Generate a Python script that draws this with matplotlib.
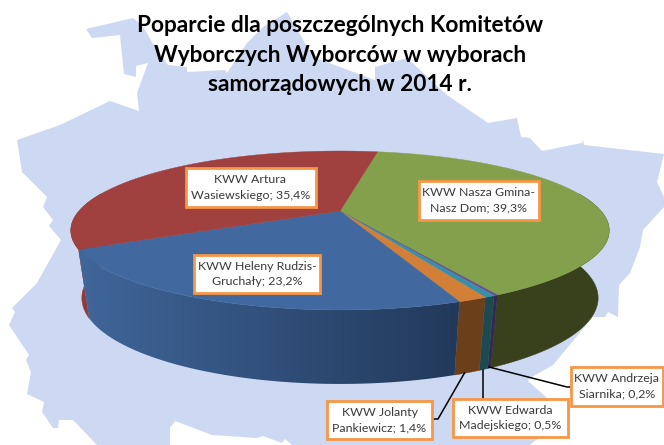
import matplotlib
matplotlib.use('Agg')
import matplotlib.pyplot as plt
import numpy as np
from matplotlib.colors import LinearSegmentedColormap
from matplotlib.patches import Polygon, Rectangle

plt.rcParams['font.family'] = ['Lato', 'DejaVu Sans']

# Dane
names = ['KWW Nasza Gmina-\nNasz Dom', 'KWW Andrzeja\nSiarnika', 'KWW Edwarda\nMadejskiego',
         'KWW Jolanty\nPankiewicz', 'KWW Heleny Rudzis-\nGruchały', 'KWW Artura\nWasiewskiego']
values = [39.3, 0.2, 0.5, 1.4, 23.2, 35.4]
title = 'Poparcie dla poszczególnych Komitetów\nWyborczych Wyborców w wyborach\nsamorządowych w 2014 r.'

# Kolory wycinkow: gora, bok (prawa i lewa strona)
top_colors = ['#83a04c', '#6a4f8f', '#3a8fa8', '#d27f38', '#41699f', '#a0413f']
side_right = ['#38411c', '#352a4d', '#1d4a52', '#6b3f1a', '#22395a', '#8f3b39']
side_left = ['#38411c', '#352a4d', '#1d4a52', '#6b3f1a', '#40669a', '#8f3b39']

# Etykiety: x0, x1, y0, y1 ramki
boxes = [(418.5, 539, 181, 220), (570.5, 663, 367, 406), (453, 567.5, 399, 437),
         (327, 432, 401, 439), (194, 320, 255, 293), (185.5, 315.5, 168, 207)]
leaders = {1: [(489, 367), (567, 387), (571, 387)],
           2: [(483, 370), (483, 399)],
           3: [(464.5, 373), (438, 419), (432, 419)]}

# Mapa w tle
map_outline = [(86, 29), (133, 18), (142, 25), (152, 42), (168, 65), (187, 67), (187, 72), (225, 70),
               (227, 73), (247, 43), (263, 27), (287, 12), (313, 57), (375, 80), (375, 67), (407, 58),
               (447, 95), (488, 123), (517, 118), (521, 137), (530, 138), (542, 151), (582, 143),
               (583, 140), (584, 145), (664, 154), (657, 182), (664, 197), (664, 207), (643, 230),
               (640, 247), (630, 273), (619, 285), (618, 317), (608, 312), (605, 317), (593, 317),
               (553, 365), (530, 378), (528, 381), (547, 398), (560, 420), (530, 445), (292, 445),
               (285, 439), (282, 443), (263, 436), (257, 438), (212, 435), (175, 421), (170, 428),
               (170, 445), (97, 445), (73, 420), (59, 420), (58, 428), (53, 428), (42, 412), (44, 402),
               (27, 394), (31, 372), (26, 360), (29, 355), (9, 325), (15, 312), (12, 308), (37, 283),
               (61, 240), (49, 226), (53, 220), (43, 207), (47, 197), (22, 172), (17, 140), (60, 125),
               (110, 101), (139, 111), (137, 93), (148, 63), (136, 66), (136, 77), (124, 74), (120, 35),
               (92, 38)]

# Geometria tortu w perspektywie
cx = 340
top_y, bottom_y = 211, 276.9
bottom_sx, bottom_sy = 0.959, 1.082
rx, ry, k = 261, 74.7, -0.245
start_angle = 10.3
side_from, side_to = 75.8, 284.2  # widoczna czesc boku


def project(theta, y0, sx=1.0, sy=1.0):
    t = np.radians(theta)
    w = 1 + k * (-np.cos(t))
    return cx + sx * rx * np.sin(t) / w, y0 + sy * ry * (-np.cos(t)) / w


fig = plt.figure(figsize=(6.64, 4.45), dpi=100)
ax = fig.add_axes([0, 0, 1, 1])

ax.add_patch(Polygon(map_outline, closed=True, fc='#cdd8f3', ec='none', zorder=0))

edges = start_angle + 3.6 * np.concatenate([[0], np.cumsum(values)])

# Boki: tylko widoczna czesc
for z, i in enumerate([5, 0, 1, 2, 3, 4]):
    a0, a1 = np.clip([edges[i], edges[i + 1]], side_from, side_to)
    th = np.linspace(a0, a1, 80)
    xt, yt = project(th, top_y)
    xb, yb = project(th, bottom_y, bottom_sx, bottom_sy)
    pts = list(zip(xt, yt)) + list(zip(xb[::-1], yb[::-1]))
    if side_left[i] == side_right[i]:
        ax.add_patch(Polygon(pts, closed=True, fc=side_right[i], ec=side_right[i], lw=0.3, zorder=2 + z * 0.01))
    else:
        # gradient na boku
        poly = Polygon(pts, closed=True, fc='none', ec='none', transform=ax.transData)
        ax.add_patch(poly)
        cmap = LinearSegmentedColormap.from_list('side', [side_left[i], side_right[i]])
        xs = [p[0] for p in pts]
        ys = [p[1] for p in pts]
        im = ax.imshow(np.linspace(0, 1, 256).reshape(1, -1), cmap=cmap, aspect='auto',
                       extent=(min(xs), max(xs), max(ys), min(ys)), zorder=2 + z * 0.01)
        im.set_clip_path(poly)

ax.set_xlim(0, 664)
ax.set_ylim(445, 0)
ax.axis('off')

# Gorna powierzchnia
for i in range(len(values)):
    th = np.linspace(edges[i], edges[i + 1], 80)
    xs, ys = project(th, top_y)
    pts = [(cx, top_y)] + list(zip(xs, ys))
    ax.add_patch(Polygon(pts, closed=True, fc=top_colors[i], ec=top_colors[i], lw=0.3, zorder=3))

# Linie odniesienia
for i, pts in leaders.items():
    ax.plot([p[0] for p in pts], [p[1] for p in pts], color='black', lw=1.1, zorder=4)

# Etykiety danych
for name, val, box in zip(names, values, boxes):
    x0, x1, y0, y1 = box
    ax.add_patch(Rectangle((x0, y0), x1 - x0, y1 - y0, fc='white', ec='#f79646', lw=2, zorder=5))
    label = f'{name}; {val}%'.replace('.', ',')
    ax.text((x0 + x1) / 2, (y0 + y1) / 2, label, ha='center', va='center', fontsize=8.9,
            color='#3a3a3a', linespacing=1.5, zorder=6)

ax.text(340, 55, title, ha='center', va='center', fontsize=16.3, fontweight='bold',
        color='black', linespacing=1.5, zorder=6)

fig.savefig('out.png', dpi=100)
